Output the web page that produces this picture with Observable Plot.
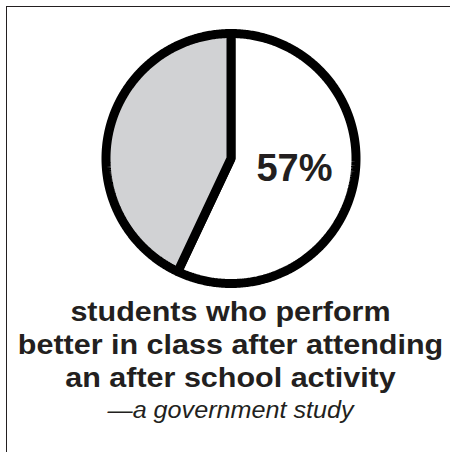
<!DOCTYPE html>
<html>
<head>
<meta charset="utf-8">
<script src="https://cdn.jsdelivr.net/npm/d3@7"></script>
<script src="https://cdn.jsdelivr.net/npm/@observablehq/plot@0.6"></script>
<style>
  html, body { margin: 0; padding: 0; background: #fff; width: 450px; height: 452px; overflow: hidden; }
  body { position: relative; font-family: "Helvetica Neue", Helvetica, "Liberation Sans", Arial, sans-serif; color: #231f20; }
  #frame { position: absolute; left: 6px; top: 6px; width: 520px; height: 520px; border-top: 1.6px solid #231f20; border-left: 1.6px solid #231f20; }
  #chart { position: absolute; left: 0; top: 0; }
  #caption { position: absolute; left: 0; top: 295px; width: 461px; text-align: center; transform: scaleX(1.07); transform-origin: 230.5px 0; }
  #title { font-weight: bold; font-size: 28.5px; line-height: 33px; }
  #subtitle { font-style: italic; font-size: 23.5px; line-height: 32px; margin-top: 0px; }
</style>
</head>
<body>
<div id="frame"></div>
<div id="chart"></div>
<div id="caption">
  <div id="title"></div>
  <div id="subtitle"></div>
</div>
<script>
const categories = ["perform better", "other"];
const values = [57, 43];
const labels = ["57%", ""];
const titleLines = ["students who perform", "better in class after attending", "an after school activity"];
const subtitle = "\u2014a government study";

const pie = d3.pie().sort(null).value(d => d)(values);

// polygon outline of each slice, built from the pie angles
const pts = [];
pie.forEach((p, i) => {
  const n = Math.ceil((p.endAngle - p.startAngle) / 0.01);
  pts.push({slice: categories[i], x: 0, y: 0});
  for (let k = 0; k <= n; k++) {
    const a = p.startAngle + (p.endAngle - p.startAngle) * k / n;
    pts.push({slice: categories[i], x: Math.sin(a), y: Math.cos(a)});
  }
  pts.push({slice: categories[i], x: 0, y: 0});
});

const labelData = pie.map((p, i) => {
  const a = (p.startAngle + p.endAngle) / 2;
  return {label: labels[i], x: 0.52 * Math.sin(a), y: 0.52 * Math.cos(a)};
}).filter(d => d.label);

const fills = {"perform better": "#ffffff", "other": "#d1d2d4"};

const plot = Plot.plot({
  width: 450,
  height: 290,
  margin: 0,
  x: {domain: [-1, 1], range: [105.5, 355.5], axis: null},
  y: {domain: [-1, 1], range: [283, 33], axis: null},
  marks: [
    ...categories.map(c => Plot.line(pts.filter(d => d.slice === c), {
      x: "x", y: "y", fill: fills[c], stroke: "#000", strokeWidth: 9,
      strokeLinejoin: "miter", strokeLinecap: "round"
    })),
    Plot.text(labelData, {
      x: "x", y: "y", text: "label", dy: -4,
      fontSize: 38, fontWeight: "bold", fill: "#231f20",
      fontFamily: "'Helvetica Neue', Helvetica, 'Liberation Sans', Arial, sans-serif"
    })
  ]
});
document.getElementById("chart").appendChild(plot);

const t = document.getElementById("title");
titleLines.forEach(l => { const d = document.createElement("div"); d.textContent = l; t.appendChild(d); });
document.getElementById("subtitle").textContent = subtitle;
</script>
</body>
</html>
